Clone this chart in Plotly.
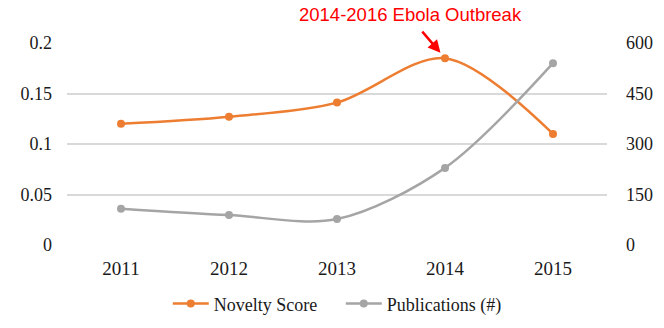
import plotly.graph_objects as go

years = [2011, 2012, 2013, 2014, 2015]
novelty = [0.12, 0.127, 0.141, 0.185, 0.11]
publications = [108, 89, 77, 229, 540]
left_ticks = [0, 0.05, 0.1, 0.15, 0.2]
left_labels = ["0", "0.05", "0.1", "0.15", "0.2"]
right_ticks = [0, 150, 300, 450, 600]

orange = "#ED7D31"
gray = "#A5A5A5"
font_serif = "Liberation Serif"
tick_font = dict(family=font_serif, size=18, color="#1a1a1a")

fig = go.Figure()
fig.add_trace(go.Scatter(
    x=years, y=novelty, name="Novelty Score", mode="lines+markers",
    line=dict(color=orange, width=2.5, shape="spline", smoothing=0.9),
    marker=dict(size=8, color=orange), yaxis="y"))
fig.add_trace(go.Scatter(
    x=years, y=publications, name="Publications (#)", mode="lines+markers",
    line=dict(color=gray, width=2.5, shape="spline", smoothing=0.9),
    marker=dict(size=8, color=gray), yaxis="y2"))

fig.update_layout(
    width=664, height=328,
    margin=dict(l=67, r=57, t=43, b=83, autoexpand=False),
    paper_bgcolor="white", plot_bgcolor="white",
    font=dict(family=font_serif, size=18, color="#1a1a1a"),
    showlegend=True,
    legend=dict(orientation="h", x=0.507, xanchor="center", y=-0.2, yanchor="top",
                font=dict(family=font_serif, size=18, color="#1a1a1a"),
                traceorder="normal", entrywidth=122, itemwidth=36),
    xaxis=dict(type="linear", range=[2010.5, 2015.5], tickvals=years,
               showgrid=False, showline=False, zeroline=False, automargin=False,
               ticks="", ticklabelstandoff=10,
               tickfont=dict(family=font_serif, size=19, color="#1a1a1a")),
    yaxis=dict(range=[0, 0.2], tickvals=left_ticks, ticktext=left_labels,
               automargin=False, tickfont=tick_font,
               showgrid=True, gridcolor="#D9D9D9", gridwidth=1.5, zeroline=False,
               ticks="", ticklabelstandoff=14),
    yaxis2=dict(range=[0, 600], tickvals=right_ticks, overlaying="y",
                side="right", showgrid=False, zeroline=False, ticks="",
                tickfont=tick_font, automargin=False, ticklabelstandoff=18),
)

# Arrow pointing at the 2014 peak
fig.add_annotation(
    x=2014, y=novelty[3], xref="x", yref="y", text="", showarrow=True,
    arrowhead=2, arrowsize=1, arrowwidth=2.5, arrowcolor="#FF0000",
    ax=-24, ay=-28, standoff=7)
# Label
fig.add_annotation(
    x=0.637, y=1.14, xref="paper", yref="paper",
    text="2014-2016 Ebola Outbreak", showarrow=False,
    xanchor="center", yanchor="middle",
    font=dict(family="Liberation Sans, Arial, sans-serif", size=18.5, color="#FF0000"))

fig.write_html("out.html", config={"displayModeBar": False},
               post_script="document.body.style.margin='0';")
